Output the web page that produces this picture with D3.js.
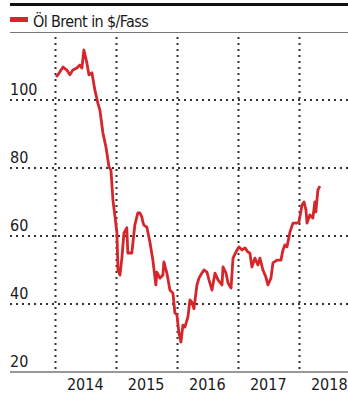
<!DOCTYPE html>
<html>
<head>
<meta charset="utf-8">
<title>Brent</title>
<script src="https://d3js.org/d3.v7.min.js"></script>
<style>
  body { margin: 0; background: #fff; }
  text { font-family: "Liberation Sans Narrow", "DejaVu Sans Condensed", "Roboto Condensed", sans-serif; fill: #1a1a1a; }
</style>
</head>
<body>
<div id="chart"></div>
<script>
// Brent price, $ per barrel
var dates = ["2014-01-07","2014-01-19","2014-02-18","2014-03-13","2014-03-31","2014-04-18","2014-05-12","2014-05-30",
  "2014-06-11","2014-06-23","2014-07-11","2014-07-23","2014-08-10","2014-08-28","2014-09-15","2014-09-27",
  "2014-10-15","2014-11-02","2014-11-14","2014-11-20","2014-12-02","2014-12-14","2015-01-07","2015-01-13",
  "2015-01-25","2015-02-06","2015-02-18","2015-03-07","2015-03-13","2015-04-06","2015-04-24","2015-05-12",
  "2015-05-24","2015-06-05","2015-06-11","2015-06-17","2015-07-05","2015-07-23","2015-08-10","2015-08-28",
  "2015-09-03","2015-09-21","2015-10-09","2015-10-15","2015-11-02","2015-11-20","2015-12-08","2015-12-20",
  "2016-01-01","2016-01-13","2016-01-25","2016-02-06","2016-02-18","2016-03-07","2016-03-19","2016-03-31",
  "2016-04-12","2016-04-30","2016-05-12","2016-05-30","2016-06-11","2016-06-29","2016-07-11","2016-07-29",
  "2016-08-16","2016-09-03","2016-09-27","2016-10-03","2016-10-21","2016-11-02","2016-11-20","2016-12-02",
  "2016-12-26","2017-01-07","2017-01-25","2017-02-12","2017-03-01","2017-03-13","2017-03-25","2017-04-12",
  "2017-04-30","2017-05-12","2017-05-30","2017-06-17","2017-06-29","2017-07-17","2017-07-29","2017-08-22",
  "2017-09-15","2017-09-27","2017-10-09","2017-10-21","2017-11-08","2017-11-26","2017-12-20","2018-01-01",
  "2018-01-19","2018-01-31","2018-02-12","2018-02-18","2018-03-07","2018-03-25","2018-04-06","2018-04-12",
  "2018-04-24","2018-05-06"];
var prices = [106.8,107.4,109.7,108.8,107.4,108.8,109.4,110.3,
  109.4,114.7,110.9,107.4,108,102.9,99,97,
  90.3,86.2,82.4,80.3,79.4,70.6,60.9,50,
  48.5,53.8,60.9,62.4,55,55,63.2,66.8,
  66.8,65.6,64.1,63.2,62.6,58.3,52.9,45.6,
  49.4,47.6,48.5,52.4,49.1,44.1,43.2,37.4,
  36.8,31.5,28.8,33.8,33.2,36.2,41.2,40.5,
  38.6,45.6,47.6,49.1,50,49.4,47.1,44.1,
  49.1,47.1,45.6,50.9,49.1,46.2,44.7,53.5,
  55.9,56.8,55.9,56.5,55.3,55,50.9,53.5,
  51.5,53.5,50,47.9,45.6,47.6,52.1,52.9,
  52.9,55.9,57.4,56.8,61.2,63.8,63.8,64.1,
  69.1,70,67.6,63.8,66.2,65.3,70,67.1,
  73.5,74.7];
var yTicks = [20, 40, 60, 80, 100];
var years = ["2014", "2015", "2016", "2017", "2018"];
var legendLabel = "Öl Brent in $/Fass";

var width = 348, height = 403;
var parse = d3.timeParse("%Y-%m-%d");
var data = dates.map(function(d, i) { return { date: parse(d), value: prices[i] }; });

var svg = d3.select("#chart").append("svg")
  .attr("width", width)
  .attr("height", height);

var x = d3.scaleTime()
  .domain([new Date(2014, 0, 1), new Date(2018, 0, 1)])
  .range([55, 299]);
var y = d3.scaleLinear()
  .domain([20, 120])
  .range([372, 32]);

// top rule + legend
svg.append("rect").attr("x", 10).attr("y", 3).attr("width", width - 10).attr("height", 3).attr("fill", "#111");
svg.append("rect").attr("x", 10).attr("y", 17).attr("width", 18).attr("height", 5).attr("fill", "#d5262b");
svg.append("text").attr("x", 33).attr("y", 27).attr("font-size", 16)
  .attr("letter-spacing", "-0.6").text(legendLabel);
svg.append("line").attr("x1", 10).attr("x2", width).attr("y1", 32.5).attr("y2", 32.5)
  .attr("stroke", "#777").attr("stroke-width", 1);

// vertical dotted gridlines at year starts
var yearStarts = years.map(function(d) { return new Date(+d, 0, 1); });
svg.selectAll(".vgrid").data(yearStarts).enter().append("line")
  .attr("class", "vgrid")
  .attr("x1", function(d) { return Math.round(x(d)) + 0.5; })
  .attr("x2", function(d) { return Math.round(x(d)) + 0.5; })
  .attr("y1", 37).attr("y2", y(20))
  .attr("stroke", "#333").attr("stroke-width", 2).attr("stroke-dasharray", "2,4");

// horizontal dotted gridlines
svg.selectAll(".hgrid").data(yTicks.slice(1)).enter().append("line")
  .attr("class", "hgrid")
  .attr("x1", 10).attr("x2", width)
  .attr("y1", function(d) { return y(d); })
  .attr("y2", function(d) { return y(d); })
  .attr("stroke", "#333").attr("stroke-width", 2).attr("stroke-dasharray", "2,4");

// baseline
svg.append("line").attr("x1", 10).attr("x2", width).attr("y1", y(20)).attr("y2", y(20))
  .attr("stroke", "#333").attr("stroke-width", 1.2);

// y labels
svg.selectAll(".ylab").data(yTicks).enter().append("text")
  .attr("x", 10)
  .attr("y", function(d) { return y(d) - 5; })
  .attr("font-size", 16)
  .text(function(d) { return d; });

// year labels centered on mid-year
svg.selectAll(".xlab").data(years).enter().append("text")
  .attr("x", function(d) { return x(new Date(+d, 6, 1)); })
  .attr("y", 390)
  .attr("text-anchor", "middle")
  .attr("font-size", 16)
  .text(function(d) { return d; });

// price line
var line = d3.line()
  .x(function(d) { return x(d.date); })
  .y(function(d) { return y(d.value); });

svg.append("path").datum(data)
  .attr("d", line)
  .attr("fill", "none")
  .attr("stroke", "#d5262b")
  .attr("stroke-width", 2.8)
  .attr("stroke-linejoin", "round");
</script>
</body>
</html>
